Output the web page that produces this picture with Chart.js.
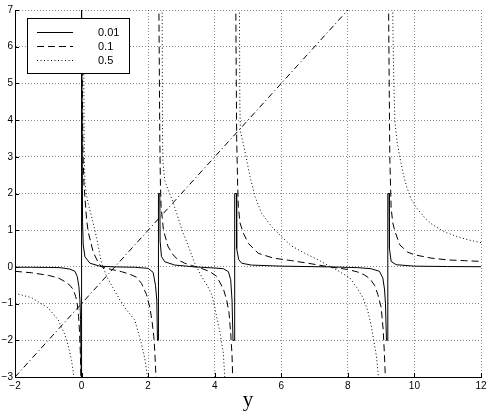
<!DOCTYPE html>
<html><head><meta charset="utf-8">
<script src="https://cdn.jsdelivr.net/npm/chart.js@4.4.0/dist/chart.umd.min.js"></script>
<style>html,body{margin:0;padding:0;background:#fff;}#wrap{width:491px;height:415px;position:relative;}</style>
</head><body><div id="wrap"><canvas id="c" width="491" height="415"></canvas></div>
<script>
// ---- data ----
const legendLabels = ['0.01', '0.1', '0.5'];
const xTickStep = 2, yTickStep = 1;
const xRange = [-2, 12], yRange = [-3, 7];
const xTitle = 'y';

// diagonal reference line (dash-dot)
const diagonal = [[-2, -3], [8, 7]];

// 0.01 (solid)
const curve001 = [
 [-2,-0.01],[-1.5,-0.01],[-1,-0.015],[-0.65,-0.02],[-0.35,-0.06],[-0.2,-0.12],[-0.13,-0.26],[-0.08,-0.54],[-0.05,-0.9],[-0.03,-1.44],[-0.015,-2.5],[-0.005,-3.5],
 [0.005,7.5],[0.03,1.2],[0.05,0.6],[0.1,0.28],[0.25,0.1],[0.55,0.02],[1.0,0],[1.6,-0.01],[2.0,-0.04],[2.15,-0.15],[2.22,-0.5],[2.26,-0.9],[2.28,-2],[2.31,-2],
 [2.31,2],[2.35,2],[2.36,0.7],[2.4,0.28],[2.5,0.14],[2.8,0.05],[3.4,0],[4.0,-0.03],[4.26,-0.05],[4.41,-0.13],[4.48,-0.35],[4.52,-0.9],[4.55,-2],[4.6,-2],
 [4.6,2],[4.65,2],[4.66,0.5],[4.72,0.2],[4.81,0.1],[5.1,0.05],[6.0,0.02],[7.45,0],[8.3,-0.02],[8.7,-0.05],[8.95,-0.12],[9.05,-0.3],[9.1,-0.6],[9.13,-1.0],[9.16,-2],[9.2,-2],
 [9.2,2],[9.24,2],[9.25,0.5],[9.3,0.15],[9.45,0.06],[10,0.02],[11,0.01],[12,0.005]
];

// 0.1 (dashed)
const curve01 = [
 [-2,-0.12],[-1.5,-0.16],[-1,-0.23],[-0.7,-0.3],[-0.5,-0.4],[-0.35,-0.5],[-0.25,-0.62],[-0.18,-0.8],[-0.13,-1.0],[-0.09,-1.35],[-0.06,-1.8],[-0.035,-2.4],[-0.015,-3.3],[-0.005,-4.5], null,
 [0.01,6.3],[0.04,3.2],[0.07,2.3],[0.1,1.9],[0.15,1.3],[0.2,0.95],[0.35,0.4],[0.5,0.12],[0.6,0],[0.9,-0.07],[1.2,-0.13],[1.45,-0.2],[1.65,-0.28],[1.8,-0.45],[1.95,-0.75],[2.05,-1.1],[2.12,-1.5],[2.17,-1.9],[2.2,-2.3],[2.235,-3],[2.26,-4], null,
 [2.32,7.5],[2.35,3.5],[2.37,2.2],[2.39,1.64],[2.46,1.0],[2.6,0.55],[2.75,0.33],[2.9,0.19],[3.1,0.1],[3.3,0.04],[3.45,0],[3.6,-0.04],[3.86,-0.13],[4.06,-0.26],[4.26,-0.6],[4.36,-0.9],[4.43,-1.25],[4.48,-1.8],[4.52,-2.4],[4.54,-3],[4.56,-4], null,
 [4.63,7.5],[4.66,3.5],[4.69,2.2],[4.71,1.64],[4.76,1.2],[4.86,0.92],[5.01,0.64],[5.31,0.37],[5.76,0.24],[6.31,0.17],[6.8,0.1],[7.45,0],[8.0,-0.07],[8.3,-0.14],[8.5,-0.22],[8.66,-0.32],[8.8,-0.5],[8.9,-0.75],[9.0,-1.1],[9.06,-1.7],[9.1,-2.4],[9.13,-3.1],[9.15,-4], null,
 [9.22,7.5],[9.26,3],[9.3,1.6],[9.35,1.2],[9.41,0.98],[9.56,0.6],[9.8,0.4],[10,0.33],[10.5,0.24],[11,0.19],[11.5,0.17],[12,0.15]
];

// 0.5 (dotted)
const curve05 = [
 [-2,-0.72],[-1.5,-0.84],[-1,-1.12],[-0.7,-1.45],[-0.5,-1.85],[-0.4,-2.15],[-0.3,-2.55],[-0.23,-3],[-0.18,-3.5], null,
 [0.06,6.3],[0.08,3.2],[0.1,2.3],[0.15,1.95],[0.2,1.72],[0.3,1.38],[0.45,0.8],[0.6,0.1],[0.75,-0.25],[0.9,-0.5],[1.15,-0.9],[1.35,-1.17],[1.6,-1.45],[1.8,-2.1],[1.9,-2.5],[1.98,-3],[2.02,-3.5], null,
 [2.42,7.5],[2.43,4],[2.44,2.9],[2.5,2.35],[2.6,2.1],[2.7,1.88],[2.86,1.46],[3.0,1.05],[3.2,0.58],[3.4,0.1],[3.6,-0.25],[3.8,-0.55],[3.91,-0.75],[4.0,-1.1],[4.16,-1.8],[4.26,-2.35],[4.3,-3],[4.33,-3.5], null,
 [4.74,7.5],[4.755,4.5],[4.77,3.7],[4.86,3.35],[4.93,3.05],[5.06,2.46],[5.21,1.92],[5.41,1.46],[5.71,1.1],[6.01,0.82],[6.31,0.57],[6.71,0.37],[7.11,0.19],[7.45,0.02],[7.7,-0.1],[8.06,-0.3],[8.26,-0.55],[8.46,-0.85],[8.6,-1.2],[8.71,-1.63],[8.86,-2.45],[8.92,-3],[8.95,-3.5], null,
 [9.34,7.5],[9.37,5.5],[9.41,4.0],[9.48,3.4],[9.56,3.0],[9.66,2.55],[9.76,2.2],[9.9,1.85],[10.07,1.6],[10.3,1.35],[10.5,1.18],[10.77,1.02],[11,0.92],[11.3,0.82],[11.6,0.74],[12,0.66]
];

// ---- build ----
function toXY(pts) {
  const out = [];
  let lastX = null;
  for (const p of pts) {
    if (p === null) { out.push({x: lastX, y: null}); }
    else { out.push({x: p[0], y: p[1]}); lastX = p[0]; }
  }
  return out;
}
const DASH = [7, 4], DOT = [1, 2.5], DASHDOT = [6, 3, 1, 3];
const styles = [[], DASH, DOT];
const series = [curve001, curve01, curve05];

const datasets = series.map((s, i) => ({
  label: legendLabels[i], data: toXY(s), borderColor: '#000', borderWidth: 1,
  borderDash: styles[i], pointRadius: 0, tension: 0, spanGaps: false, fill: false
}));
datasets.push({label: 'diag', data: toXY(diagonal), borderColor: '#000', borderWidth: 1,
  borderDash: DASHDOT, pointRadius: 0, tension: 0, fill: false});

const minus = v => String(v).replace('-', '\u2212');
const tickFont = {family: "'Liberation Sans', Arial, sans-serif", size: 10};
const gridCol = 'rgba(0,0,0,0.45)';

const innerTicks = {
  id: 'innerTicks',
  afterDatasetsDraw(chart) {
    const ctx = chart.ctx, a = chart.chartArea, xs = chart.scales.x, ys = chart.scales.y;
    ctx.save(); ctx.strokeStyle = '#000'; ctx.lineWidth = 1; ctx.beginPath();
    xs.ticks.forEach(t => { const px = Math.round(xs.getPixelForValue(t.value)) + 0.5; ctx.moveTo(px, a.bottom); ctx.lineTo(px, a.bottom - 4); });
    ys.ticks.forEach(t => { const py = Math.round(ys.getPixelForValue(t.value)) + 0.5; ctx.moveTo(a.left, py); ctx.lineTo(a.left + 4, py); });
    ctx.stroke(); ctx.restore();
  }
};

const boxLegend = {
  id: 'boxLegend',
  afterDatasetsDraw(chart) {
    const ctx = chart.ctx;
    ctx.save();
    ctx.fillStyle = '#fff'; ctx.strokeStyle = '#000'; ctx.lineWidth = 1;
    ctx.fillRect(27.5, 18.5, 102, 55); ctx.strokeRect(27.5, 18.5, 102, 55);
    const rows = [32.5, 46.5, 60.5];
    rows.forEach((y, i) => {
      ctx.setLineDash(styles[i]); ctx.beginPath(); ctx.moveTo(37, y); ctx.lineTo(73, y); ctx.stroke();
      ctx.setLineDash([]);
      ctx.fillStyle = '#000'; ctx.font = "11px 'Liberation Sans', Arial, sans-serif";
      ctx.textBaseline = 'middle'; ctx.textAlign = 'left';
      ctx.fillText(legendLabels[i], 98, y);
    });
    ctx.restore();
  }
};

new Chart(document.getElementById('c'), {
  type: 'line',
  data: {datasets},
  options: {
    responsive: false, animation: false, devicePixelRatio: 1,
    layout: {padding: {left: 0, right: 10, top: 10, bottom: 0}},
    plugins: {legend: {display: false}, tooltip: {enabled: false}},
    scales: {
      x: {
        type: 'linear', min: xRange[0], max: xRange[1],
        ticks: {stepSize: xTickStep, color: '#000', font: tickFont, padding: 3, maxRotation: 0, callback: minus},
        grid: {color: gridCol, lineWidth: 1, drawTicks: false},
        border: {display: true, color: '#000', width: 1, dash: [1, 2]},
        title: {display: true, text: xTitle, color: '#000', font: {family: "'Liberation Serif', 'Times New Roman', serif", size: 21}, padding: {top: 0, bottom: 2}},
        afterFit(s) { s.height = 38; }
      },
      y: {
        type: 'linear', min: yRange[0], max: yRange[1],
        ticks: {stepSize: yTickStep, color: '#000', font: tickFont, padding: 2, callback: minus},
        grid: {color: gridCol, lineWidth: 1, drawTicks: false},
        border: {display: true, color: '#000', width: 1, dash: [1, 2]},
        afterFit(s) { s.width = 15; }
      }
    }
  },
  plugins: [innerTicks, boxLegend]
});
</script></body></html>
